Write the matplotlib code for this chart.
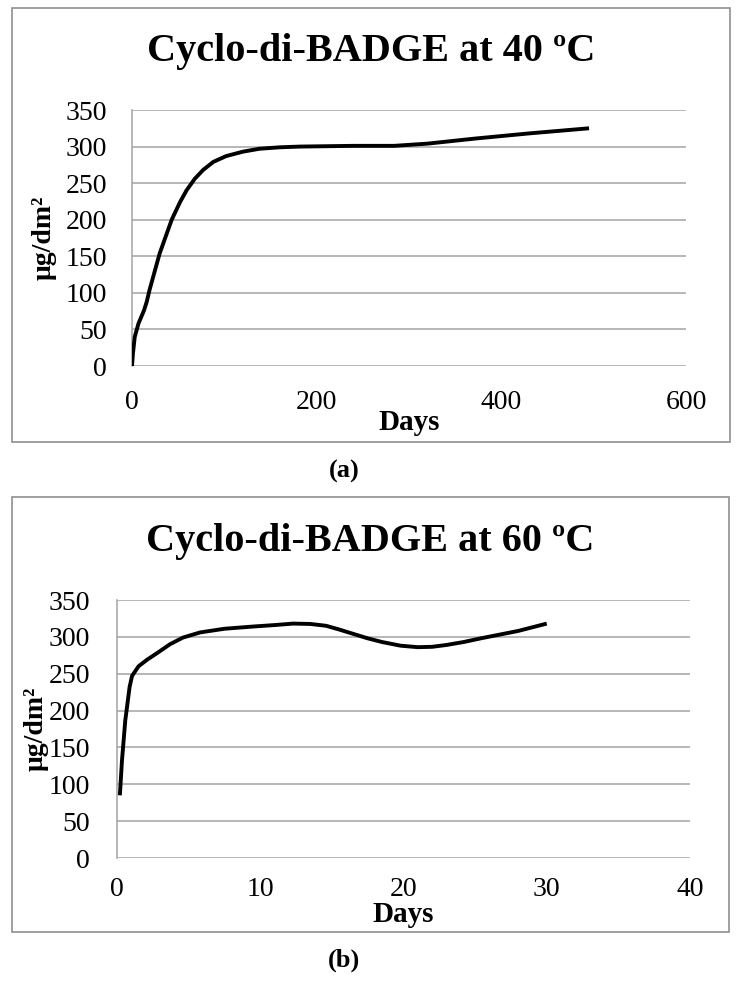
import matplotlib
matplotlib.use("Agg")
import matplotlib.pyplot as plt
from matplotlib.patches import Rectangle

plt.rcParams["font.family"] = ["Liberation Serif", "DejaVu Serif"]

# panel (a): 40 ºC
days_40 = [0, 1, 3, 7, 10, 13, 16, 19, 30, 43, 52, 59, 68, 77, 88, 102, 120, 138,
           160, 182, 240, 284, 320, 372, 430, 495]
conc_40 = [0, 17, 40, 58, 67, 76, 88, 104, 154, 200, 224, 240, 256, 268, 279, 287,
           293, 297, 299, 300, 301, 301, 304, 311, 318, 325]

# panel (b): 60 ºC
days_60 = [0.2, 0.35, 0.58, 0.88, 1.05, 1.5, 2.1, 2.8, 3.7, 4.6, 5.8, 7.5, 9.5, 11,
           12.3, 13.5, 14.6, 15.5, 16.5, 17.5, 18.5, 19.8, 21, 22, 23, 24.2, 25.4,
           26.7, 28, 30]
conc_60 = [85, 133, 187, 232, 247, 260, 269, 278, 290, 299, 306, 311, 314, 316,
           318, 317.5, 315, 310, 304, 298, 293, 288, 286, 286.5, 289, 293, 298,
           303, 308, 318]

titles = ["Cyclo-di-BADGE at 40 ºC", "Cyclo-di-BADGE at 60 ºC"]
xlims = [600, 40]
xticks = [[0, 200, 400, 600], [0, 10, 20, 30, 40]]
yticks = list(range(0, 351, 50))
panel_tags = ["(a)", "(b)"]

W, H = 741, 986
fig = plt.figure(figsize=(W / 100, H / 100), dpi=100)


def fx(px):
    return px / W


def fy(py):
    return 1 - py / H


# pixel layout: (plot left, right, top, bottom), (box left, right, top, bottom)
plot_px = [(132, 686, 110, 366), (117, 690, 600, 858)]
box_px = [(12, 730, 8, 442), (12, 729, 497, 932)]
title_y = [51, 542]
tag_y = [471, 960]
ytick_pad = [18, 19.5]
xtick_pad = [17, 14]
ylabel_x = [44, 36]
xlabel_y = [423, 915]

grid_col = "#a3a3a3"
data = [(days_40, conc_40), (days_60, conc_60)]

for i in range(2):
    l, r, t, b = plot_px[i]
    ax = fig.add_axes([fx(l), fy(b), fx(r) - fx(l), fy(t) - fy(b)])
    x, y = data[i]
    ax.plot(x, y, color="black", lw=2.8, solid_capstyle="butt",
            solid_joinstyle="round", zorder=3)

    ax.set_xlim(0, xlims[i])
    ax.set_ylim(0, 350)
    ax.set_xticks(xticks[i])
    ax.set_yticks(yticks)
    ax.grid(axis="y", color=grid_col, lw=1.1)
    ax.set_axisbelow(True)
    for s in ["top", "right", "bottom"]:
        ax.spines[s].set_visible(False)
    ax.spines["left"].set_color(grid_col)
    ax.spines["left"].set_linewidth(1.1)
    ax.tick_params(axis="both", length=0, labelsize=20)
    ax.tick_params(axis="y", pad=ytick_pad[i])
    ax.tick_params(axis="x", pad=xtick_pad[i])

    ax.set_xlabel("Days", fontsize=21, fontweight="bold", va="center")
    ax.xaxis.set_label_coords(0.5, (b - xlabel_y[i]) / (b - t))
    ax.set_ylabel("μg/dm²", fontsize=20, fontweight="bold", va="center")
    ax.yaxis.set_label_coords((ylabel_x[i] - l) / (r - l), 0.5)

    bl, br, bt, bb = box_px[i]
    fig.add_artist(Rectangle((fx(bl), fy(bb)), fx(br) - fx(bl), fy(bt) - fy(bb),
                             transform=fig.transFigure, fill=False,
                             edgecolor="#8f8f8f", lw=1.2))
    fig.text(fx((bl + br) / 2), fy(title_y[i]), titles[i], fontsize=29,
             fontweight="bold", ha="center", va="center")
    fig.text(fx(344), fy(tag_y[i]), panel_tags[i], fontsize=19,
             fontweight="bold", ha="center", va="center")

fig.savefig("out.png", dpi=100)
